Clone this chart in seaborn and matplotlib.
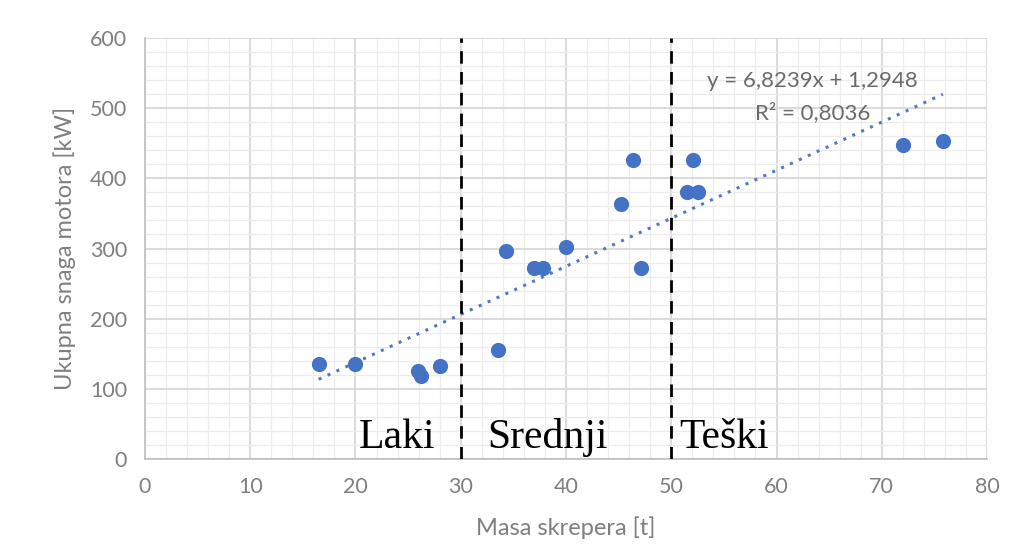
import matplotlib
matplotlib.use("Agg")
import matplotlib.pyplot as plt
import seaborn as sns
import numpy as np
import pandas as pd
from matplotlib.ticker import MultipleLocator

# Podaci o skreperima: masa [t] i snaga motora [kW]
masa = [16.5, 20.0, 25.9, 26.2, 28.0, 33.5, 34.3, 37.0, 37.8, 40.0,
        45.2, 46.4, 47.1, 51.5, 52.5, 52.1, 72.0, 75.8]
snaga = [135, 135, 126, 118, 132, 156, 297, 272, 272, 302,
         363, 426, 272, 380, 380, 426, 447, 453]

granice = [30, 50]
klase = ["Laki", "Srednji", "Teški"]
klase_x = [20.3, 32.5, 50.8]

df = pd.DataFrame({"masa": masa, "snaga": snaga})

sns.set_style("white")
fig = plt.figure(figsize=(10.16, 5.59), dpi=100)
ax = fig.add_axes([0.1427, 0.1789, 0.8288, 0.7531])

plava = "#4472C4"

# Linearni trend
sns.regplot(data=df, x="masa", y="snaga", ax=ax, ci=None, truncate=True,
            scatter=False, line_kws=dict(color="#5878bd", linestyle=(0, (1, 2.2)), linewidth=2.2))
sns.scatterplot(data=df, x="masa", y="snaga", ax=ax, color=plava, s=120,
                edgecolor=plava, linewidth=0, zorder=4)

# Granice klasa
for g in granice:
    ax.axvline(g, color="black", linestyle=(0, (4.5, 3)), linewidth=2, zorder=5)

for naziv, xx in zip(klase, klase_x):
    ax.text(xx, 16, naziv, fontsize=30, family="Liberation Serif",
            color="black", ha="left", va="baseline", zorder=6)

ax.text(63.4, 539, "y = 6,8239x + 1,2948", ha="center", va="center",
        fontsize=16, color="#6a6a6a", family="Lato")
ax.text(63.4, 494, "R² = 0,8036", ha="center", va="center",
        fontsize=16, color="#6a6a6a", family="Lato")

ax.set_xlim(0, 80)
ax.set_ylim(0, 600)
ax.xaxis.set_major_locator(MultipleLocator(10))
ax.xaxis.set_minor_locator(MultipleLocator(2))
ax.yaxis.set_major_locator(MultipleLocator(100))
ax.yaxis.set_minor_locator(MultipleLocator(20))
ax.grid(which="major", color="#d4d4d4", linewidth=1.2)
ax.grid(which="minor", color="#ececec", linewidth=0.9)
ax.set_axisbelow(True)

for s in ["top", "right"]:
    ax.spines[s].set_visible(False)
for s in ["left", "bottom"]:
    ax.spines[s].set_color("#bfbfbf")
    ax.spines[s].set_linewidth(1.2)

ax.tick_params(which="major", length=6, width=1, color="#bfbfbf",
               labelcolor="#7f7f7f", labelsize=15.5, direction="out", pad=7)
ax.tick_params(which="minor", length=0)
for lab in ax.get_xticklabels() + ax.get_yticklabels():
    lab.set_family("Lato")

ax.set_xlabel("Masa skrepera [t]", fontsize=17, color="#7f7f7f", family="Lato", labelpad=14)
ax.set_ylabel("Ukupna snaga motora [kW]", fontsize=17, color="#7f7f7f", family="Lato", labelpad=10)

fig.savefig("out.png", dpi=100, facecolor="white")
